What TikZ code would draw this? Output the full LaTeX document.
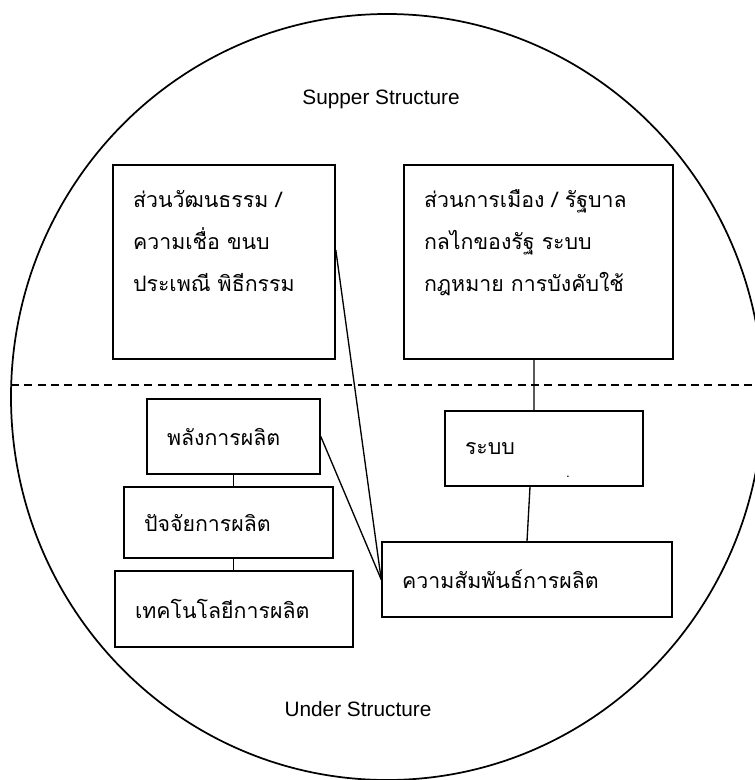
\documentclass[tikz,border=0pt]{standalone}
\usepackage{fontspec}
\setmainfont{Liberation Sans}
\newfontfamily\thaifont[Script=Thai]{Loma}
\usetikzlibrary{calc}

\begin{document}
\begin{tikzpicture}[x = 0.75pt, y = -0.75pt,
            thaibox/.style = {draw = black, line width = 1.2pt, inner xsep = 15pt, inner ysep = 0pt, align = left, font = \thaifont\fontsize{16}{31.5}\selectfont},
            eng/.style = {font = \fontsize{15.6}{18}\selectfont},
            link/.style = {black, line width = 1pt}]
            \useasboundingbox (0,0) rectangle (755,780);
            \clip (0,0) rectangle (755,780);
            \draw[black, line width = 1.3pt] (387,397) ellipse [x radius = 376, y radius = 383];
            \draw[black, line width = 1pt, dash pattern = on 6pt off 4pt] (11,385) -- (755,385);

            \node[eng] (supper) at (381,99) {Supper Structure};
            \node[eng] (under) at (358,709) {Under Structure};

            \node[thaibox, text width = 136.5pt, minimum height = 145.5pt] (culture) at (224,262) {ส่วนวัฒนธรรม /\\ความเชื่อ ขนบ\\ประเพณี พิธีกรรม\\ \mbox{}};
            \node[thaibox, text width = 171.75pt, minimum height = 145.5pt] (politics) at (538.5,262) {ส่วนการเมือง / รัฐบาล\\กลไกของรัฐ ระบบ\\กฎหมาย การบังคับใช้\\ \mbox{}};
            \node[thaibox, text width = 99.75pt, minimum height = 56.25pt] (force) at (233.5,436.5) {พลังการผลิต};
            \node[thaibox, text width = 126.75pt, minimum height = 53.25pt] (factor) at (228.5,522.5) {ปัจจัยการผลิต};
            \node[thaibox, text width = 148.5pt, minimum height = 57pt] (tech) at (234,609) {เทคโนโลยีการผลิต};
            \node[thaibox, text width = 118.5pt, minimum height = 56.25pt] (system) at (544,448.5) {ระบบ};
            \node[thaibox, text width = 187.5pt, minimum height = 56.25pt] (relation) at (527,579.5) {ความสัมพันธ์การผลิต};
            \node[font = \thaifont\fontsize{10}{12}\selectfont, inner sep = 0pt, anchor = base] (dot) at (568,477) {.};

            \draw[link] ([xshift = -3.4pt]politics.south) -- ([xshift = -7.5pt]system.north);
            \draw[link] ([xshift = -10.5pt]system.south) -- (relation.north);
            \draw[link] ([yshift = 9pt]culture.east) -- (relation.west);
            \draw[link] (force.east) -- (relation.west);
            \draw[link] (force.south) -- (force.south |- factor.north);
            \draw[link] (force.south |- factor.south) -- (force.south |- tech.north);
        \end{tikzpicture}
\end{document}
